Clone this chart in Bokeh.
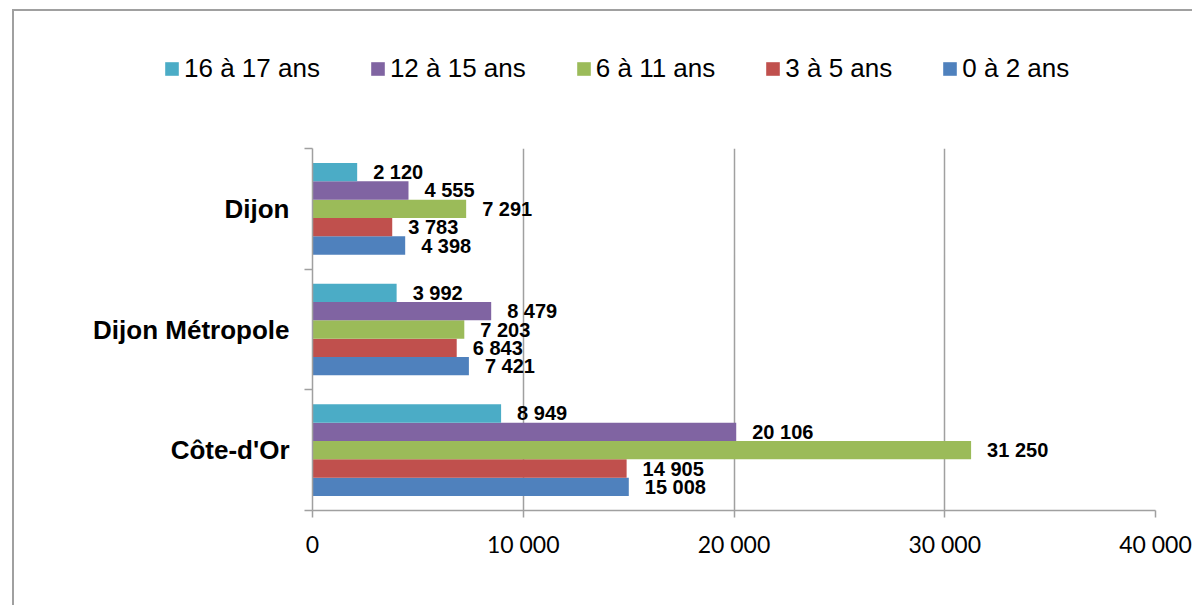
from bokeh.plotting import figure
from bokeh.models import (FactorRange, Range1d, LinearAxis, FixedTicker,
                          ColumnDataSource, Legend, LegendItem, Grid)
from bokeh.transform import dodge
from bokeh.core.properties import value
from bokeh.embed import file_html
from bokeh.resources import INLINE

# ---- data ----
categories = ["Côte-d'Or", "Dijon Métropole", "Dijon"]
series_names = ["0 à 2 ans", "3 à 5 ans", "6 à 11 ans", "12 à 15 ans", "16 à 17 ans"]
age_0_2 = [15008, 7421, 4398]
age_3_5 = [14905, 6843, 3783]
age_6_11 = [31250, 7203, 7291]
age_12_15 = [20106, 8479, 4555]
age_16_17 = [8949, 3992, 2120]
series_keys = ["age_0_2", "age_3_5", "age_6_11", "age_12_15", "age_16_17"]
colors = ["#4F81BD", "#C0504D", "#9BBB59", "#8064A2", "#4BACC6"]
x_ticks = [0, 10000, 20000, 30000, 40000]
x_tick_labels = ["0", "10 000", "20 000", "30 000", "40 000"]


def fmt(v):
    return f"{v:,}".replace(",", " ")


data = dict(category=categories, age_0_2=age_0_2, age_3_5=age_3_5, age_6_11=age_6_11,
            age_12_15=age_12_15, age_16_17=age_16_17)
for k in series_keys:
    data[k + "_label"] = [fmt(v) for v in data[k]]
source = ColumnDataSource(data)

GRAY = "#a0a0a0"
W = 1180
LEG_H = 100
bar_h = 0.152

# ---------- legend strip (separate figure so the legend is not clipped) ----------
lf = figure(width=W, height=LEG_H, x_range=Range1d(-2, -1),
            y_range=FactorRange(factors=categories, range_padding=0, factor_padding=0),
            output_backend="svg", toolbar_location=None,
            x_axis_location=None, y_axis_location=None,
            min_border=0, min_border_left=0, min_border_right=0,
            min_border_top=0, min_border_bottom=0)
lf.outline_line_color = None
lf.background_fill_color = "white"
lf.border_fill_color = "white"
lf.center = [r for r in lf.center if not isinstance(r, Grid)]
lf.styles = {"border-left": "2px solid #a0a0a0", "border-top": "2px solid #a0a0a0",
             "margin-left": "12px", "margin-top": "9px"}
leg_renderers = {}
for name, key, color in zip(series_names, series_keys, colors):
    # same bars, outside the strip's visible x range: only their legend swatches show
    leg_renderers[name] = lf.hbar(y="category", left=0, right=key, height=bar_h, source=source,
                                  fill_color=color, line_color=None)
legend = Legend(items=[LegendItem(label=n, renderers=[leg_renderers[n]]) for n in reversed(series_names)],
                location=(149, 27), orientation="horizontal",
                glyph_width=17, glyph_height=17, label_standoff=4, spacing=49,
                padding=0, margin=0,
                label_text_font="Liberation Sans", label_text_font_size="26px",
                label_text_color="#000000",
                border_line_color=None, background_fill_alpha=0)
lf.add_layout(legend)

# ---------- main chart ----------
p = figure(width=W, height=596 - LEG_H,
           y_range=FactorRange(factors=categories, range_padding=0, factor_padding=0),
           x_range=Range1d(0, 40000),
           output_backend="svg", toolbar_location=None,
           x_axis_location=None, y_axis_location=None,
           min_border_left=298, min_border_right=39, min_border_top=39, min_border_bottom=95)
p.outline_line_color = None
p.background_fill_color = "white"
p.border_fill_color = "white"
p.center = [r for r in p.center if not isinstance(r, Grid)]
p.styles = {"border-left": "2px solid #a0a0a0", "margin-left": "12px"}

# x axis
xaxis = LinearAxis(ticker=FixedTicker(ticks=x_ticks, minor_ticks=[]),
                   major_label_overrides={t: l for t, l in zip(x_ticks, x_tick_labels)},
                   axis_line_color=GRAY, axis_line_width=1.5,
                   major_tick_line_color=GRAY, major_tick_line_width=1.5,
                   major_tick_in=0, major_tick_out=7,
                   minor_tick_line_color=None,
                   major_label_text_font="Lato", major_label_text_font_size="23px",
                   major_label_text_color="#000000", major_label_standoff=12)
p.add_layout(xaxis, "below")
p.add_layout(Grid(dimension=0, ticker=xaxis.ticker, grid_line_color=GRAY, grid_line_width=1.5))

# y axis: labels at category centres, minor ticks at category boundaries
centers = [i + 0.5 for i in range(len(categories))]
bounds = list(range(len(categories) + 1))
yaxis = LinearAxis(ticker=FixedTicker(ticks=centers, minor_ticks=bounds),
                   major_label_overrides={c: name for c, name in zip(centers, categories)},
                   axis_line_color=GRAY, axis_line_width=1.5,
                   major_tick_line_color=None, major_tick_in=0, major_tick_out=0,
                   minor_tick_line_color=GRAY, minor_tick_line_width=1.5,
                   minor_tick_in=0, minor_tick_out=8,
                   major_label_text_font="Liberation Sans",
                   major_label_text_font_style="bold",
                   major_label_text_font_size="26px",
                   major_label_text_color="#000000",
                   major_label_standoff=15)
p.add_layout(yaxis, "left")

# bars + labels
for i, (name, key, color) in enumerate(zip(series_names, series_keys, colors)):
    off = (i - 2) * bar_h
    p.hbar(y=dodge("category", off, range=p.y_range), left=0, right=key, height=bar_h,
           source=source, fill_color=color, line_color=None)
    p.text(x=key, y=dodge("category", off, range=p.y_range), text=key + "_label",
           source=source, x_offset=16, text_align="left", text_baseline="middle",
           text_font=value("Liberation Sans"), text_font_style="bold",
           text_font_size="20px", text_color="#000000")

open("out.html", "w").write(file_html([lf, p], INLINE))
